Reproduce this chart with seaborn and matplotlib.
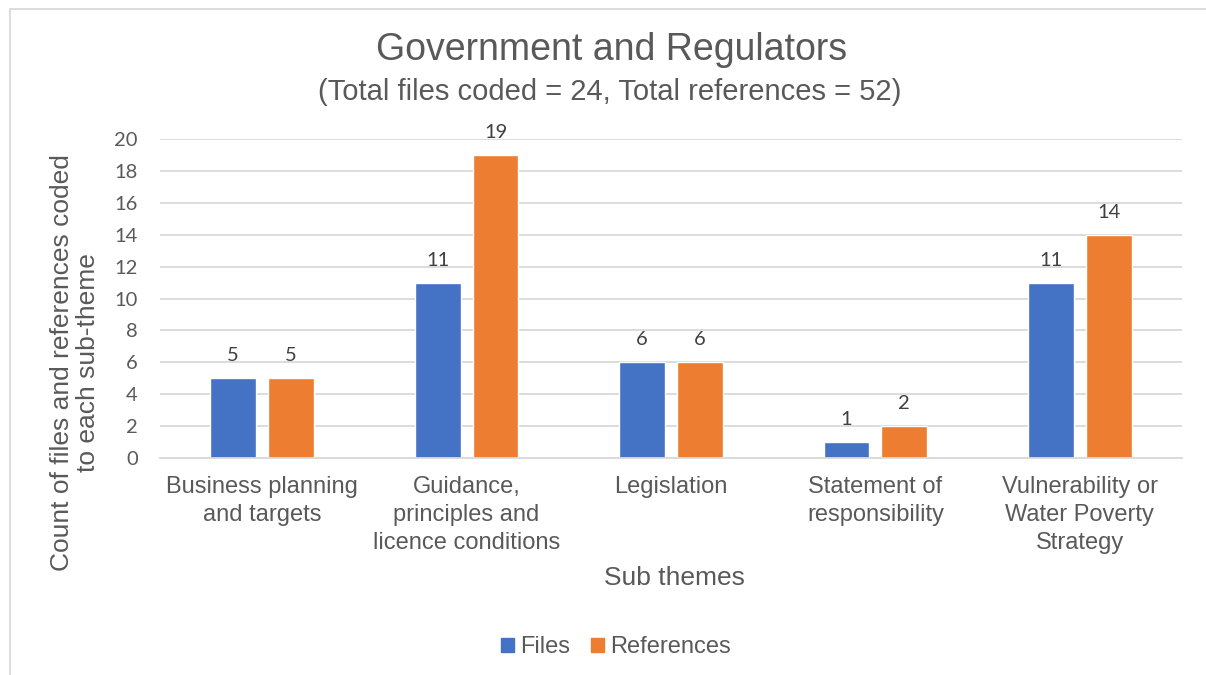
import matplotlib
matplotlib.use("Agg")
import matplotlib.pyplot as plt
from matplotlib.patches import Rectangle
import seaborn as sns
import pandas as pd

categories = [
    "Business planning\nand targets",
    "Guidance,\nprinciples and\nlicence conditions",
    "Legislation",
    "Statement of\nresponsibility",
    "Vulnerability or\nWater Poverty\nStrategy",
]
files = [5, 11, 6, 1, 11]
references = [5, 19, 6, 2, 14]
series_names = ["Files", "References"]
colors = ["#4472C4", "#ED7D31"]
y_ticks = [0, 2, 4, 6, 8, 10, 12, 14, 16, 18, 20]

df = pd.DataFrame({
    "category": categories * 2,
    "value": files + references,
    "series": [series_names[0]] * len(categories) + [series_names[1]] * len(categories),
})

sns.set_theme(style="white")
plt.rcParams["font.family"] = ["Liberation Sans", "DejaVu Sans"]

W, H = 1206, 675
TXT = "#595959"
fig = plt.figure(figsize=(W / 100, H / 100), dpi=100)
ax = fig.add_axes([160 / W, 1 - 458 / H, 1022 / W, (458 - 139) / H])

# chart frame (left and top edges visible)
fig.patches.append(Rectangle((10 / W, -0.1), 1.2, 1 - 9 / H + 0.1, transform=fig.transFigure,
                             fill=False, edgecolor="#D9D9D9", linewidth=1.3))

sns.barplot(data=df, x="category", y="value", hue="series", palette=colors,
            width=0.567, gap=0.21, ax=ax, legend=False, saturation=1)

ax.set_ylim(0, 20)
ax.set_xlim(-0.5, len(categories) - 0.5)
ax.set_yticks(y_ticks)
ax.set_yticklabels([str(t) for t in y_ticks], fontsize=14.5, color=TXT, family="Lato")
ax.yaxis.grid(True, color="#D9D9D9", linewidth=1.3)
ax.set_axisbelow(True)
for s in ["top", "right", "left"]:
    ax.spines[s].set_visible(False)
ax.spines["bottom"].set_color("#D9D9D9")
ax.spines["bottom"].set_linewidth(1.3)
ax.tick_params(axis="y", length=0, pad=16)
ax.tick_params(axis="x", length=0, pad=13)
ax.set_xticks(range(len(categories)))
ax.set_xticklabels(categories, fontsize=17, color=TXT, linespacing=1.35, va="top")

for cont in ax.containers:
    ax.bar_label(cont, labels=[str(int(v)) for v in cont.datavalues], padding=10,
                 fontsize=14.5, color="#404040", family="Lato")

ax.set_xlabel("")
ax.set_ylabel("")
fig.text(674 / W, 1 - 578 / H, "Sub themes", ha="center", va="center",
         fontsize=19, color=TXT)
fig.text(75 / W, 1 - 363 / H, "Count of files and references coded\nto each sub-theme",
         ha="center", va="center", rotation=90, multialignment="center",
         fontsize=19, color=TXT, linespacing=1.1)

fig.text(612 / W, 1 - 50 / H, "Government and Regulators", ha="center", va="center",
         fontsize=27, color=TXT)
fig.text(610 / W, 1 - 92 / H, "(Total files coded = 24, Total references = 52)",
         ha="center", va="center", fontsize=21, color=TXT)

handles = [Rectangle((0, 0), 1, 1, color=c) for c in colors]
fig.legend(handles, series_names, loc="center", bbox_to_anchor=(616 / W, 1 - 647 / H),
           ncol=2, frameon=False, fontsize=17, handlelength=0.55, handleheight=0.55,
           handletextpad=0.25, columnspacing=0.9, labelcolor=TXT)

fig.savefig("out.png", dpi=100)
